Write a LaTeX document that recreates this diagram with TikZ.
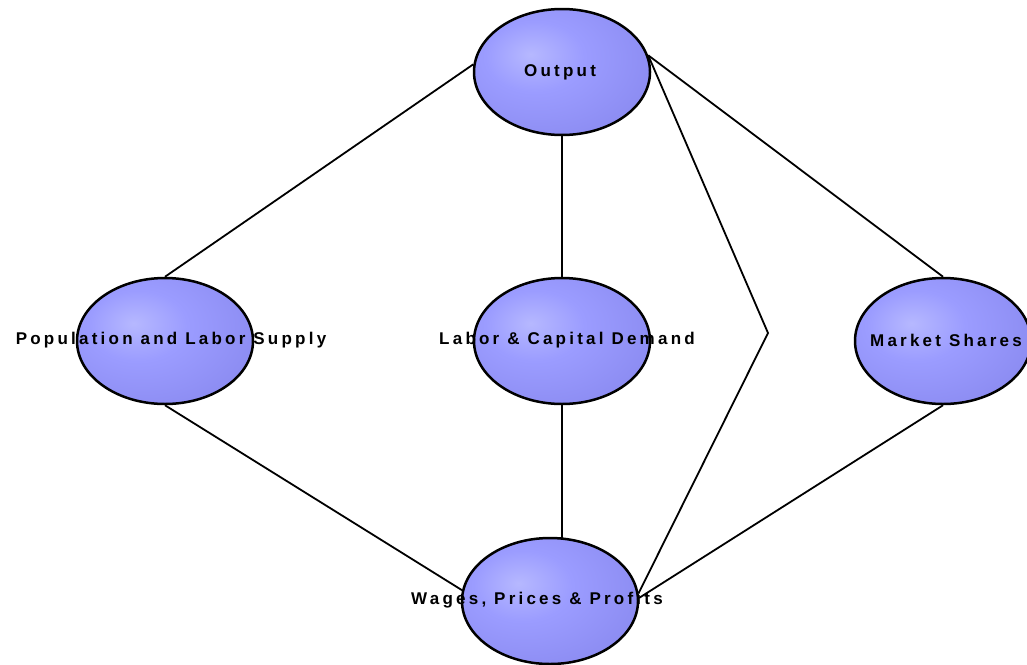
\documentclass[tikz,border=0pt]{standalone}
\usepackage{fontspec}
\usetikzlibrary{shapes.geometric}
\newfontfamily\lblfont[LetterSpace=19]{Liberation Sans}
\definecolor{cA}{RGB}{182,184,255}
\definecolor{cB}{RGB}{155,156,255}
\definecolor{cC}{RGB}{140,140,242}
\definecolor{cD}{RGB}{118,118,205}
\definecolor{cE}{RGB}{96,96,172}
\pgfdeclareradialshading{ballshade}{\pgfpoint{-9bp}{7bp}}{color(0bp)=(cA); color(14bp)=(cB); color(33bp)=(cC); color(45bp)=(cD); color(55bp)=(cE); color(100bp)=(cE)}
\tikzset{
  ball/.style={ellipse, draw=black, line width=2.5pt, shading=ballshade, minimum width=176pt, minimum height=126pt, inner sep=0pt},
  lbl/.style={font=\lblfont\bfseries\fontsize{17}{19}\selectfont, inner sep=0pt, text=black},
  conn/.style={line width=1.8pt, draw=black}
}
\begin{document}
\begin{tikzpicture}[x=1pt,y=-1pt]
\clip (0,0) rectangle (1027,664);
\fill[white] (0,0) rectangle (1027,664);
\node[ball] (o) at (562,72) {};
\node[ball] (p) at (165,341) {};
\node[ball] (l) at (562,341) {};
\node[ball] (m) at (943,341) {};
\node[ball] (w) at (550,601) {};
\coordinate (bend) at (768,333);
\coordinate (wtop) at (562,539);
\draw[conn] (o.175) -- (p.north);
\draw[conn] (o.south) -- (l.north);
\draw[conn] (o.11) -- (m.north);
\draw[conn] (o.11) -- (bend) -- (w.5);
\draw[conn] (p.south) -- (w.173);
\draw[conn] (l.south) -- (wtop);
\draw[conn] (m.south) -- (w.2);
\node[lbl] (to) at (560,72) {Output};
\node[lbl] (tp) at (171,340) {Population and Labor Supply};
\node[lbl] (tl) at (567,340) {Labor \& Capital Demand};
\node[lbl] (tm) at (946,340) {Market Shares};
\node[lbl] (tw) at (537,600) {Wages, Prices \& Profits};
\end{tikzpicture}
\end{document}
